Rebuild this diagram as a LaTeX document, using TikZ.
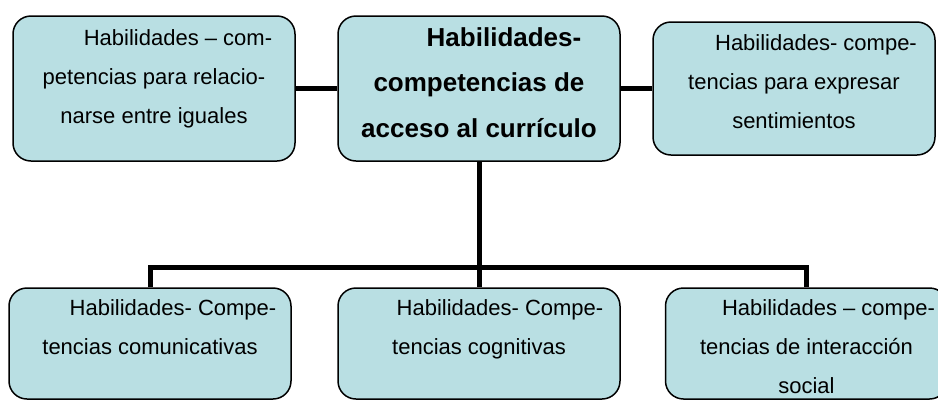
\documentclass[tikz,border=0pt]{standalone}
\usepackage{fontspec}
\setmainfont{Liberation Sans}
\usepackage{tikz}
\usetikzlibrary{calc}
\definecolor{boxfill}{RGB}{185,223,227}
\tikzset{
  box/.style={shape=rectangle,draw,line width=1.5pt,rounded corners=18pt,fill=boxfill,minimum width=282pt,inner sep=0pt},
  txt/.style={anchor=north,inner sep=0pt,align=center,font=\fontsize{22}{39}\selectfont},
  bigtxt/.style={anchor=north,inner sep=0pt,align=center,font=\fontsize{26}{45.5}\selectfont\bfseries},
  conn/.style={line width=5pt}
}

\begin{document}
\begin{tikzpicture}[x=1pt,y=-1pt]
\useasboundingbox (0,0) rectangle (938,400);
\clip (0,0) rectangle (938,400);
\draw (154,88.5) node (tl) [box,minimum height=145pt] {};
\draw (479,88.5) node (ctr) [box,minimum height=145pt] {};
\draw (794,88.5) node (tr) [box,minimum height=133pt] {};
\draw (150,343.5) node (bl) [box,minimum height=111pt] {};
\draw (479,343.5) node (bm) [box,minimum height=111pt] {};
\draw (806.5,343.5) node (br) [box,minimum height=111pt] {};
\draw[conn] (tl.east) -- (ctr.west);
\draw[conn] (ctr.east) -- (tr.west);
\draw[conn] (ctr.south) -- (bm.north);
\draw (ctr.south) ++(0,106) coordinate (bar);
\draw[conn] (bl.north) |- (bar) -| (br.north);
\draw (tl.north) ++(0,14) node (tltext) [txt] {\hspace*{48pt}Habilidades – com-\\petencias para relacio-\\narse entre iguales};
\draw (ctr.north) ++(0,12) node (ctrtext) [bigtxt] {\hspace*{50pt}Habilidades-\\competencias de\\acceso al currículo};
\draw (tr.north) ++(0,13) node (trtext) [txt] {\hspace*{44pt}Habilidades- compe-\\tencias para expresar\\sentimientos};
\draw (bl.north) ++(0,12) node (bltext) [txt] {\hspace*{46pt}Habilidades- Compe-\\tencias comunicativas};
\draw (bm.north) ++(0,12) node (bmtext) [txt] {\hspace*{42pt}Habilidades- Compe-\\tencias cognitivas};
\draw (br.north) ++(0,12) node (brtext) [txt] {\hspace*{44pt}Habilidades – compe-\\tencias de interacción\\social};
\end{tikzpicture}
\end{document}
